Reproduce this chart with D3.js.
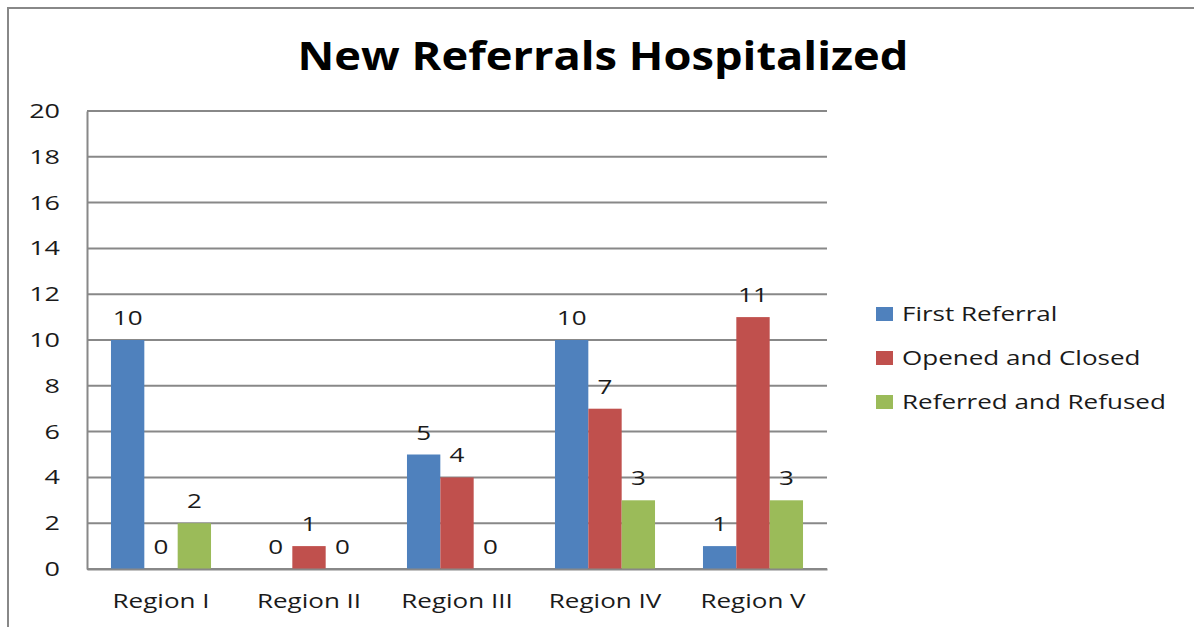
<!DOCTYPE html>
<html>
<head>
<meta charset="utf-8">
<script src="https://cdn.jsdelivr.net/npm/d3@7"></script>
<style>
  html, body { margin: 0; padding: 0; background: #fff; }
  svg { display: block; }
  text { font-family: "Open Sans", sans-serif; fill: #1a1a1a; }
</style>
</head>
<body>
<div id="app"></div>
<script>
var regions = ['Region I', 'Region II', 'Region III', 'Region IV', 'Region V'];
var seriesNames = ['First Referral', 'Opened and Closed', 'Referred and Refused'];
var firstReferral = [10, 0, 5, 10, 1];
var openedClosed = [0, 1, 4, 7, 11];
var referredRefused = [2, 0, 0, 3, 3];
var yTicks = [0, 2, 4, 6, 8, 10, 12, 14, 16, 18, 20];
var colors = ['#4F81BD', '#C0504D', '#9BBB59'];

var width = 1194,
    height = 627;

var plot = { left: 87, right: 827, top: 111, bottom: 569 };

var svg = d3.select('#app')
    .append('svg')
    .attr('width', width)
    .attr('height', height);

// widen glyphs to match the stretched look of the original
function stretch(sel, k) {
    sel.each(function () {
        var len = this.getComputedTextLength();
        d3.select(this)
            .attr('textLength', len * k)
            .attr('lengthAdjust', 'spacingAndGlyphs');
    });
}

// chart frame
svg.append('rect')
    .attr('x', 8)
    .attr('y', 8)
    .attr('width', 1200)
    .attr('height', 640)
    .attr('fill', '#fff')
    .attr('stroke', '#888')
    .attr('stroke-width', 2);

var title = svg.append('text')
    .attr('x', 603)
    .attr('y', 70)
    .attr('text-anchor', 'middle')
    .style('font-size', '39px')
    .style('font-weight', 'bold')
    .style('fill', '#000')
    .text('New Referrals Hospitalized');
stretch(title, 1.16);

var yScale = d3.scaleLinear().domain([0, 20]).range([plot.bottom, plot.top]);

var xScale = d3.scaleBand()
    .domain(regions)
    .range([plot.left, plot.right])
    .paddingInner(0.324)
    .paddingOuter(0.162);

var inner = d3.scaleBand()
    .domain(seriesNames)
    .range([0, xScale.bandwidth()]);

// gridlines
svg.append('g')
    .selectAll('line')
    .data(yTicks)
    .enter()
    .append('line')
    .attr('x1', plot.left)
    .attr('x2', plot.right)
    .attr('y1', function (d) { return yScale(d); })
    .attr('y2', function (d) { return yScale(d); })
    .attr('stroke', '#888')
    .attr('stroke-width', 2);

var yAxis = d3.axisLeft(yScale).tickValues(yTicks).tickSize(0).tickPadding(27);
var yG = svg.append('g')
    .attr('transform', 'translate(' + plot.left + ', 0)')
    .call(yAxis);
yG.select('.domain').attr('stroke', '#888').attr('stroke-width', 2);
yG.selectAll('text').style('font-size', '20px').style('font-family', '"Open Sans", sans-serif').attr('fill', '#1a1a1a');
stretch(yG.selectAll('text'), 1.35);

var series = [firstReferral, openedClosed, referredRefused];

var groups = svg.append('g')
    .selectAll('g')
    .data(series)
    .enter()
    .append('g')
    .attr('fill', function (d, i) { return colors[i]; });

groups.selectAll('rect')
    .data(function (d, i) {
        return d.map(function (v, j) { return { s: i, region: regions[j], value: v }; });
    })
    .enter()
    .append('rect')
    .attr('x', function (d) { return xScale(d.region) + inner(seriesNames[d.s]); })
    .attr('y', function (d) { return yScale(d.value); })
    .attr('width', inner.bandwidth())
    .attr('height', function (d) { return yScale(0) - yScale(d.value); });

var labels = groups.selectAll('text')
    .data(function (d, i) {
        return d.map(function (v, j) { return { s: i, region: regions[j], value: v }; });
    })
    .enter()
    .append('text')
    .attr('x', function (d) { return xScale(d.region) + inner(seriesNames[d.s]) + inner.bandwidth() / 2; })
    .attr('y', function (d) { return yScale(d.value) - 15; })
    .attr('text-anchor', 'middle')
    .style('font-size', '20px')
    .text(function (d) { return d.value; });
stretch(labels, 1.3);

var xAxis = d3.axisBottom(xScale).tickSize(0).tickPadding(25);
var xG = svg.append('g')
    .attr('transform', 'translate(0, ' + plot.bottom + ')')
    .call(xAxis);
xG.select('.domain').attr('stroke', '#888').attr('stroke-width', 2);
xG.selectAll('text').style('font-size', '20px').style('font-family', '"Open Sans", sans-serif').attr('fill', '#1a1a1a');
stretch(xG.selectAll('text'), 1.3);

// legend
var legend = svg.append('g')
    .selectAll('g')
    .data(seriesNames)
    .enter()
    .append('g')
    .attr('transform', function (d, i) { return 'translate(876, ' + (307 + i * 44) + ')'; });

legend.append('rect')
    .attr('width', 17)
    .attr('height', 14)
    .attr('fill', function (d, i) { return colors[i]; });

var legendText = legend.append('text')
    .attr('x', 26)
    .attr('y', 14)
    .style('font-size', '20px')
    .text(function (d) { return d; });
stretch(legendText, 1.3);
</script>
</body>
</html>
